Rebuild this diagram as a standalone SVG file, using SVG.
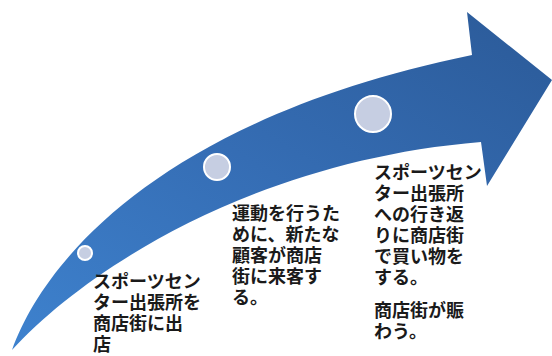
<svg xmlns="http://www.w3.org/2000/svg" width="552" height="356" viewBox="0 0 552 356">
  <defs>
    <linearGradient id="arrowGrad" x1="0" y1="1" x2="1" y2="0">
      <stop offset="0" stop-color="#3E82CE"/>
      <stop offset="0.5" stop-color="#356DB4"/>
      <stop offset="1" stop-color="#2B5A98"/>
    </linearGradient>
  </defs>
  <style>
    .dot { fill: #C6CEE2; stroke: #FFFFFF; stroke-width: 2; }
    .lbl { font-family: "Noto Sans CJK JP", "Noto Sans", sans-serif; font-size: 18px; font-weight: bold; fill: #1A1A1A; }
  </style>
  <rect x="0" y="0" width="552" height="356" fill="#FFFFFF"/>
  <g id="connectors">
    <path id="arrow" fill="url(#arrowGrad)" d="M 12,350 C 45,258 165,118 472,55 L 467,12 L 552,80 L 487,186 L 481,142 C 260,160 90,265 12,350 Z"/>
  </g>
  <g id="step-1">
    <circle class="dot" cx="85" cy="253" r="7"/>
    <text class="lbl">
      <tspan x="93" y="288">スポーツセン</tspan>
      <tspan x="93" y="309">ター出張所を</tspan>
      <tspan x="93" y="330">商店街に出</tspan>
      <tspan x="93" y="351">店</tspan>
    </text>
  </g>
  <g id="step-2">
    <circle class="dot" cx="217" cy="167" r="13"/>
    <text class="lbl">
      <tspan x="232" y="220">運動を行うた</tspan>
      <tspan x="232" y="241">めに、新たな</tspan>
      <tspan x="232" y="262">顧客が商店</tspan>
      <tspan x="232" y="283">街に来客す</tspan>
      <tspan x="232" y="304">る。</tspan>
    </text>
  </g>
  <g id="step-3">
    <circle class="dot" cx="373" cy="114" r="18"/>
    <text class="lbl">
      <tspan x="374" y="179">スポーツセン</tspan>
      <tspan x="374" y="200">ター出張所</tspan>
      <tspan x="374" y="221">への行き返</tspan>
      <tspan x="374" y="242">りに商店街</tspan>
      <tspan x="374" y="263">で買い物を</tspan>
      <tspan x="374" y="284">する。</tspan>
      <tspan x="374" y="317">商店街が賑</tspan>
      <tspan x="374" y="338">わう。</tspan>
    </text>
  </g>
</svg>
